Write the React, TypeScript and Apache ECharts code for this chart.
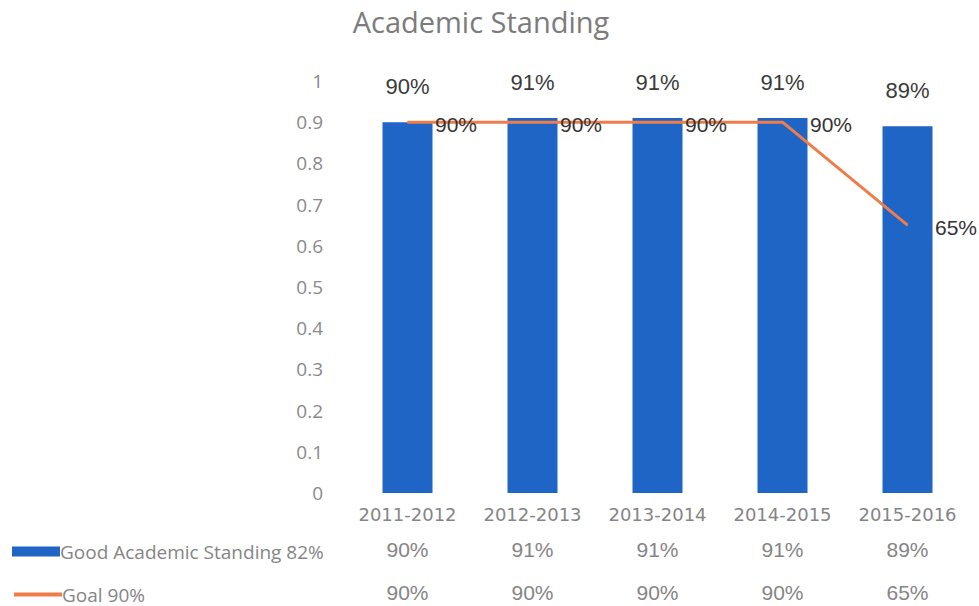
import React, { useEffect, useRef } from "react";
import * as echarts from "echarts";

const categories = ["2011-2012", "2012-2013", "2013-2014", "2014-2015", "2015-2016"];
const goodStanding = [0.9, 0.91, 0.91, 0.91, 0.89];
const goal = [0.9, 0.9, 0.9, 0.9, 0.65];
const yTicks = [0, 0.1, 0.2, 0.3, 0.4, 0.5, 0.6, 0.7, 0.8, 0.9, 1];
const seriesNames = ["Good Academic Standing 82%", "Goal 90%"];

const pct = (v: number) => `${Math.round(v * 100)}%`;

export default function App() {
  const ref = useRef<HTMLDivElement>(null);
  useEffect(() => {
    if (!ref.current) return;
    const chart = echarts.init(ref.current, undefined, { renderer: "svg" });
    const gray = "#858585";
    const hiddenAxis = {
      axisLine: { show: false },
      axisTick: { show: false },
      splitLine: { show: false },
    };
    const legendBase = {
      left: 12,
      padding: 0,
      itemWidth: 48,
      itemHeight: 10,
      textStyle: { fontFamily: "Open Sans", fontSize: 19, color: gray, padding: [0, 0, 0, -5] },
    };
    chart.setOption({
      animation: false,
      backgroundColor: "#ffffff",
      title: {
        text: "Academic Standing",
        left: 476,
        textAlign: "center",
        top: 2,
        textStyle: { fontFamily: "Open Sans", fontSize: 29, fontWeight: "normal", color: "#7b7b7b" },
      },
      legend: [
        {
          ...legendBase,
          top: 542,
          data: [{ name: seriesNames[0], icon: "rect" }],
        },
        {
          ...legendBase,
          top: 585,
          data: [{ name: seriesNames[1], itemStyle: { opacity: 0 }, lineStyle: { width: 4 } }],
        },
      ],
      grid: { left: 345, right: 9, top: 81, bottom: 113, containLabel: false },
      xAxis: [
        {
          type: "category",
          data: categories,
          ...hiddenAxis,
          axisLabel: { interval: 0, color: gray, fontFamily: "DejaVu Sans", fontSize: 18, margin: 12 },
        },
        {
          type: "category",
          data: goodStanding.map(pct),
          position: "bottom",
          offset: 36,
          ...hiddenAxis,
          axisLabel: { interval: 0, color: gray, fontFamily: "Liberation Sans", fontSize: 21, margin: 10 },
        },
        {
          type: "category",
          data: goal.map(pct),
          position: "bottom",
          offset: 79,
          ...hiddenAxis,
          axisLabel: { interval: 0, color: gray, fontFamily: "Liberation Sans", fontSize: 21, margin: 10 },
        },
      ],
      yAxis: {
        type: "value",
        min: yTicks[0],
        max: yTicks[yTicks.length - 1],
        interval: 0.1,
        ...hiddenAxis,
        axisLabel: {
          color: "#8a8a8a",
          fontFamily: "Open Sans",
          fontSize: 19,
          margin: 22,
          formatter: (v: number) => (v === 0 || v === 1 ? String(v) : v.toFixed(1)),
        },
      },
      series: [
        {
          name: seriesNames[0],
          type: "bar",
          data: goodStanding,
          barWidth: 50,
          itemStyle: { color: "#1f65c6" },
          label: {
            show: true,
            position: "top",
            distance: 25,
            formatter: (p: any) => pct(p.value),
            fontFamily: "Liberation Sans",
            fontSize: 22,
            color: "#3a3a3a",
          },
        },
        {
          name: seriesNames[1],
          type: "line",
          data: goal,
          symbol: "circle",
          symbolSize: 1,
          lineStyle: { color: "#ef7d4a", width: 3 },
          itemStyle: { color: "#ef7d4a" },
          label: {
            show: true,
            position: "right",
            distance: 27,
            offset: [0, 2],
            formatter: (p: any) => pct(p.value),
            fontFamily: "Liberation Sans",
            fontSize: 21,
            color: "#333333",
          },
        },
      ],
    });
    return () => chart.dispose();
  }, []);
  return <div ref={ref} style={{ width: 979, height: 606, position: "absolute", left: 0, top: 0 }} />;
}
